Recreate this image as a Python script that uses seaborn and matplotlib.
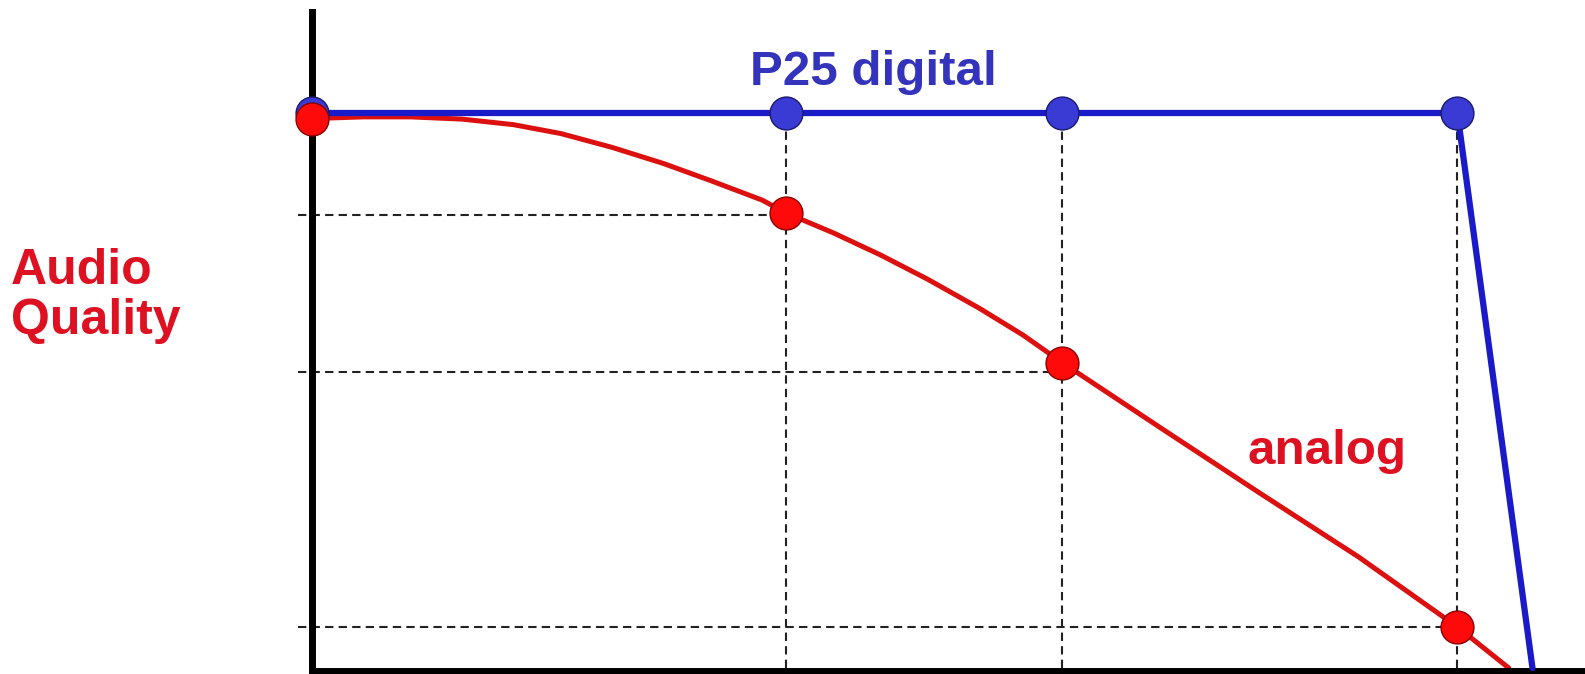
"""
Audio quality vs distance : P25 digital vs analog
"""
import matplotlib.pyplot as plt
import pandas as pd
import seaborn as sns

sns.set_theme(style="white")
plt.rcParams['font.family'] = ['Liberation Sans', 'DejaVu Sans']

# points (distance arbitraire, qualité 0-100)
point_x = [0, 12, 19, 29]
digital_y = [100, 100, 100, 100]
analog_pts_y = [99, 82, 55, 7.4]

# ligne numérique : plateau puis chute brutale
digital_line_x = [0, 12, 19, 29, 30.9]
digital_line_y = [100, 100, 100, 100, 0]

# courbe analogique
analog_curve_x = [0, 1.3, 2.5, 3.8, 5.1, 6.3, 7.6, 8.9, 10.1, 11.4, 12, 13.2,
                  14.4, 15.6, 16.9, 18, 19, 21.5, 24, 26.5, 29, 30.3]
analog_curve_y = [99, 99.3, 99.3, 98.9, 97.9, 96.3, 93.8, 90.9, 87.8, 84.3, 82,
                  78.4, 74.4, 70, 64.8, 60, 55, 43.2, 31.5, 20, 7.4, 0]

# niveaux des pointillés horizontaux
guide_y = [81.6, 53.3, 7.4]

W, H = 1585, 674
fig = plt.figure(figsize=(W / 100, H / 100), dpi=100)
ax = fig.add_axes([312 / W, 3 / H, 1 - 312 / W, (671 - 12) / H])
ax.set_xlim(0, 32.23)
ax.set_ylim(-0.54, 118.2)

dash = (0, (4, 2.5))
ax.hlines(guide_y, -0.35, point_x[1:], colors='#222222', linewidth=1.5,
          linestyles=[dash], clip_on=False, zorder=1)
ax.vlines(point_x[1:], 0, 100, colors='#222222', linewidth=1.5,
          linestyles=[dash], zorder=1)

analog_df = pd.DataFrame({'x': analog_curve_x, 'y': analog_curve_y})
digital_df = pd.DataFrame({'x': digital_line_x, 'y': digital_line_y})
sns.lineplot(data=analog_df, x='x', y='y', sort=False, color='#dd1010',
             linewidth=3.6, ax=ax, zorder=2)
sns.lineplot(data=digital_df, x='x', y='y', sort=False, color='#1a1ac8',
             linewidth=4.5, ax=ax, zorder=3)
sns.scatterplot(x=point_x, y=digital_y, color='#3a3ad4', edgecolor='#1a1a70',
                linewidth=1, s=560, ax=ax, zorder=4, clip_on=False)
sns.scatterplot(x=point_x, y=analog_pts_y, color='#ff0a0a', edgecolor='#8a0000',
                linewidth=1, s=560, ax=ax, zorder=5, clip_on=False)

for side in ['top', 'right']:
    ax.spines[side].set_visible(False)
for side in ['left', 'bottom']:
    ax.spines[side].set_color('black')
    ax.spines[side].set_linewidth(5)
ax.set_xticks([])
ax.set_yticks([])
ax.set_xlabel(None)
ax.set_ylabel(None)

fig.text(873 / W, 1 - 85 / H, 'P25 digital', color='#3333bb', fontsize=35.5,
         fontweight='bold', ha='center', va='baseline')
fig.text(1327 / W, 1 - 464 / H, 'analog', color='#dd1122', fontsize=35.5,
         fontweight='bold', ha='center', va='baseline')
fig.text(11 / W, 1 - 284 / H, 'Audio', color='#dd1122', fontsize=36,
         fontweight='bold', ha='left', va='baseline')
fig.text(11 / W, 1 - 334 / H, 'Quality', color='#dd1122', fontsize=36,
         fontweight='bold', ha='left', va='baseline')

plt.savefig('out.png', dpi=100, facecolor='white')
